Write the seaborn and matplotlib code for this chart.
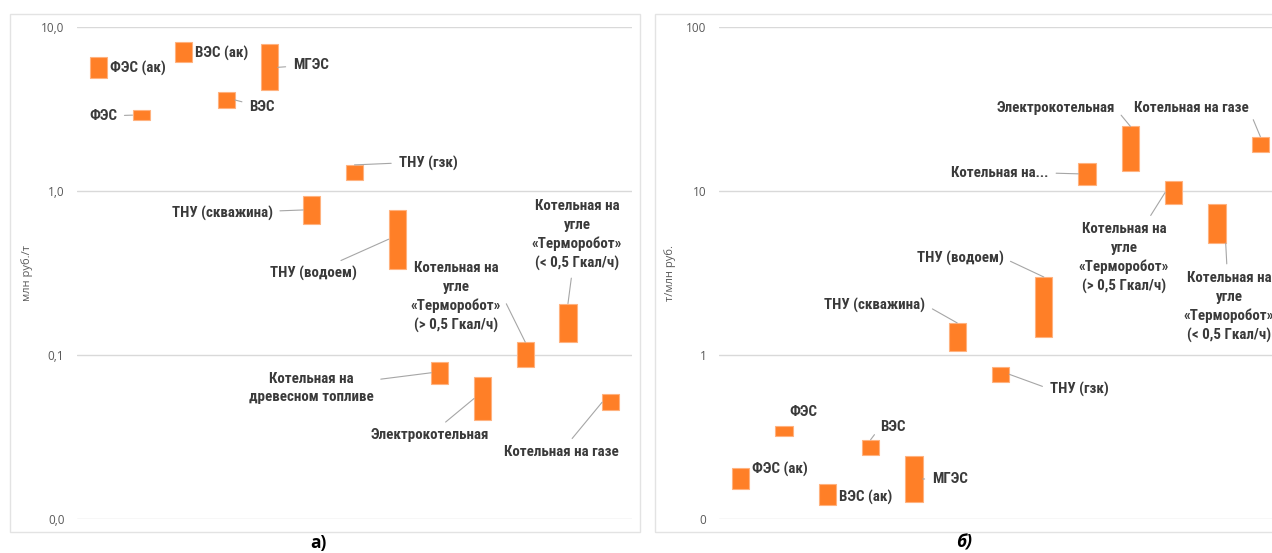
import numpy as np
import pandas as pd
import matplotlib
matplotlib.use("Agg")
import matplotlib.pyplot as plt
import seaborn as sns
from matplotlib import font_manager
from matplotlib.patches import Rectangle
from matplotlib.ticker import NullLocator, FixedLocator, FixedFormatter

# ---------------- data ----------------
categories = ["ФЭС (ак)", "ФЭС", "ВЭС (ак)", "ВЭС", "МГЭС", "ТНУ (скважина)",
              "ТНУ (гзк)", "ТНУ (водоем)", "Котельная на древесном топливе",
              "Электрокотельная", "Котельная на угле «Терморобот» (> 0,5 Гкал/ч)",
              "Котельная на угле «Терморобот» (< 0,5 Гкал/ч)", "Котельная на газе"]

# panel а) — млн руб./т (min / max)
cost_low = [4.9, 2.7, 6.1, 3.2, 4.1, 0.63, 1.16, 0.335, 0.067, 0.040, 0.085, 0.12, 0.046]
cost_high = [6.5, 3.1, 8.1, 4.0, 7.8, 0.93, 1.44, 0.77, 0.091, 0.074, 0.12, 0.206, 0.058]

# panel б) — т/млн руб. (min / max)
eff_low = [0.153, 0.321, 0.122, 0.245, 0.127, 1.06, 0.688, 1.29, 10.9, 13.3, 8.3, 4.81, 17.2]
eff_high = [0.204, 0.371, 0.164, 0.305, 0.244, 1.57, 0.849, 2.99, 14.8, 24.7, 11.5, 8.27, 21.4]

labels_a = ["ФЭС (ак)", "ФЭС", "ВЭС (ак)", "ВЭС", "МГЭС", "ТНУ (скважина)", "ТНУ (гзк)",
            "ТНУ (водоем)", "Котельная на\nдревесном топливе", "Электрокотельная",
            "Котельная на\nугле\n«Терморобот»\n(> 0,5 Гкал/ч)",
            "Котельная на\nугле\n«Терморобот»\n(< 0,5 Гкал/ч)", "Котельная на газе"]
labels_b = ["ФЭС (ак)", "ФЭС", "ВЭС (ак)", "ВЭС", "МГЭС", "ТНУ (скважина)", "ТНУ (гзк)",
            "ТНУ (водоем)", "Котельная на...", "Электрокотельная",
            "Котельная на\nугле\n«Терморобот»\n(> 0,5 Гкал/ч)",
            "Котельная на\nугле\n«Терморобот»\n(< 0,5 Гкал/ч)", "Котельная на газе"]

ticks_a = [0.01, 0.1, 1, 10]
ticklabels_a = ["0,0", "0,1", "1,0", "10,0"]
ticks_b = [0.1, 1, 10, 100]
ticklabels_b = ["0", "1", "10", "100"]

# ---------------- layout: label centre (figure px from top-left), leader anchor, leader start on text
layout_a = [(138, 68, None, None), (103, 116, "L", None), (222, 53, None, None),
            (262, 107, "R", None), (311, 65, "R", None), (222, 213, "L", None),
            (428, 163, "T", (0, 0.5)), (313, 273, "L", None), (311, 388, "L", None),
            (430, 435, "L", None), (456, 297, "T", (1, 0.55)), (577, 235, "T", None),
            (561, 452, "L", None)]
layout_b = [(780, 469, None, None), (803, 412, None, None), (866, 497, None, None),
            (893, 427, "T", (0, 0.5)), (950, 479, "R", None), (875, 305, "T", (1, 0.5)),
            (1079, 389, "R", (0, 0.5)), (960, 258, "T", (1, 0.5)), (1000, 173, "L", (1, 0.5)),
            (1056, 108, "T", (1, 0.5)), (1124, 258, "L", None), (1229, 307, "B", None),
            (1191, 108, "T", (1, 0.5))]

W, H = 1272, 553
BAR = "#FF7F27"
EDGE = "#FFB27F"
GRID = "#D9D9D9"
TXT = "#3A3A3A"
TICK = "#595959"

sns.set_theme(style="white")
plt.rcParams["font.family"] = ["Open Sans", "DejaVu Sans"]

avail = {f.name for f in font_manager.fontManager.ttflist}
LABEL_FONT = "Open Sans"
for cand in ["Liberation Sans Narrow", "Roboto Condensed", "Open Sans Condensed",
             "DejaVu Sans Condensed", "Roboto"]:
    if cand in avail:
        LABEL_FONT = cand
        break

fig = plt.figure(figsize=(W / 100, H / 100), dpi=100)

# size the bold label font so that "Электрокотельная" is ~118 px wide, as in the reference
renderer = fig.canvas.get_renderer()
probe = fig.text(0, 0, "Электрокотельная", fontsize=10, fontweight="bold", family=LABEL_FONT)
w10 = probe.get_window_extent(renderer).width
probe.remove()
LABEL_SIZE = 10 * 118.0 / w10
probe1 = fig.text(0, 0, "Аg", fontsize=LABEL_SIZE, fontweight="bold", family=LABEL_FONT, linespacing=1.0)
probe2 = fig.text(0, 0, "Аg\nАg", fontsize=LABEL_SIZE, fontweight="bold", family=LABEL_FONT, linespacing=1.0)
step = probe2.get_window_extent(renderer).height - probe1.get_window_extent(renderer).height
probe1.remove()
probe2.remove()
LINESPACING = 19.7 / step

# chart-area frames
for (x0, y0, x1, y1) in [(10, 14, 640, 532), (655, 14, 1290, 532)]:
    fig.patches.append(Rectangle((x0 / W, 1 - y1 / H), (x1 - x0) / W, (y1 - y0) / H,
                                 transform=fig.transFigure, fill=False,
                                 edgecolor="#E3E3E3", linewidth=1.0))

ax_bottom = 1 - 519.3 / H
ax_height = 492.6 / H
ax_a = fig.add_axes([77 / W, ax_bottom, 555 / W, ax_height])
ax_b = fig.add_axes([719 / W, ax_bottom, 563 / W, ax_height])


def draw_panel(ax, low, high, labels, layout, ticks, ticklabels, ylabel):
    df = pd.DataFrame({"category": categories, "low": low, "high": high})
    df["span"] = df["high"] - df["low"]
    sns.barplot(data=df, x="category", y="span", bottom=df["low"].to_numpy(),
                color=BAR, saturation=1, width=0.4, edgecolor=EDGE, linewidth=0.8,
                ax=ax, zorder=3)
    ax.set_yscale("log")
    ax.set_ylim(ticks[0], ticks[-1])
    ax.set_xlim(-0.5, len(categories) - 0.5)
    ax.set_xticks([])
    ax.set_xlabel("")
    ax.yaxis.set_major_locator(FixedLocator(ticks))
    ax.yaxis.set_major_formatter(FixedFormatter(ticklabels))
    ax.yaxis.set_minor_locator(NullLocator())
    ax.tick_params(axis="y", length=0, pad=9, labelsize=8.5, labelcolor=TICK)
    ax.yaxis.grid(True, color=GRID, linewidth=1.0, zorder=0)
    ax.set_axisbelow(True)
    for s in ax.spines.values():
        s.set_visible(False)
    ax.set_facecolor("none")
    ax.set_ylabel(ylabel, fontsize=8, color=TICK)
    ax.yaxis.set_label_coords(-0.08, 0.5)

    for i, (text, (px, py, anchor, rel)) in enumerate(zip(labels, layout)):
        lo, hi = low[i], high[i]
        mid = np.sqrt(lo * hi)
        if anchor == "L":
            xy = (i - 0.2, mid)
        elif anchor == "R":
            xy = (i + 0.2, mid)
        elif anchor == "T":
            xy = (i, hi)
        elif anchor == "B":
            xy = (i + 0.2, lo)
        else:
            xy = (i, mid)
        arrow = None
        if anchor is not None:
            arrow = dict(arrowstyle="-", color="#A6A6A6", lw=0.8, shrinkA=3, shrinkB=0,
                         relpos=rel if rel is not None else (0.5, 0.5))
        ax.annotate(text, xy=xy, xycoords="data", xytext=(px, H - py),
                    textcoords="figure pixels", ha="center", va="center",
                    multialignment="center", fontsize=LABEL_SIZE, fontweight="bold",
                    family=LABEL_FONT, color=TXT, linespacing=LINESPACING,
                    arrowprops=arrow, annotation_clip=False, zorder=4)


draw_panel(ax_a, cost_low, cost_high, labels_a, layout_a, ticks_a, ticklabels_a, "млн руб./т")
draw_panel(ax_b, eff_low, eff_high, labels_b, layout_b, ticks_b, ticklabels_b, "т/млн руб.")
ax_b.yaxis.set_label_coords(-0.077, 0.5)

fig.text(318 / W, 1 - 543 / H, "а)", ha="center", va="center", fontsize=12.5,
         fontweight="bold", color="black")
fig.text(964 / W, 1 - 543 / H, "б)", ha="center", va="center", fontsize=12.5,
         fontweight="bold", fontstyle="italic", color="black")

fig.savefig("out.png", dpi=100)
